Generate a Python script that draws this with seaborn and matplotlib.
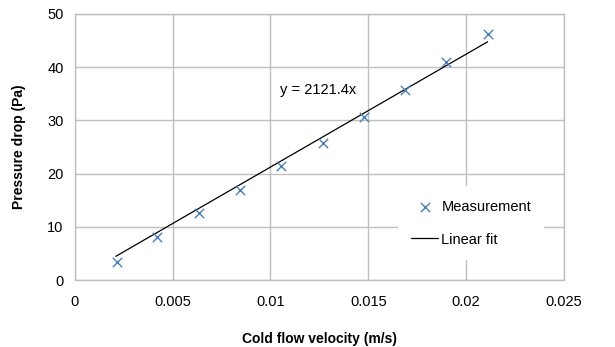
import numpy as np
import pandas as pd
import matplotlib
matplotlib.use('Agg')
import matplotlib.pyplot as plt
import seaborn as sns

sns.set_style('white')
plt.rcParams['font.family'] = ['Liberation Sans', 'DejaVu Sans']
plt.rcParams['text.color'] = 'black'
plt.rcParams['axes.labelcolor'] = 'black'
plt.rcParams['xtick.color'] = 'black'
plt.rcParams['ytick.color'] = 'black'

velocity = [0.00215, 0.00419, 0.00637, 0.00845, 0.01056, 0.01268, 0.01476, 0.01689, 0.01898, 0.02111]
pressure = [3.4, 8.0, 12.5, 16.9, 21.4, 25.7, 30.7, 35.7, 41.0, 46.3]
slope = 2121.4
fit_x = [0.0021, 0.0211]

df = pd.DataFrame({'v': velocity, 'p': pressure})
fit = pd.DataFrame({'v': fit_x, 'p': [slope * v for v in fit_x]})

fig = plt.figure(figsize=(6.15, 3.47), dpi=100)
ax = fig.add_axes([0.1215, 0.193, 0.7955, 0.767])

sns.lineplot(data=fit, x='v', y='p', ax=ax, color='black', linewidth=0.9,
             label='Linear fit', zorder=3)
sns.scatterplot(data=df, x='v', y='p', ax=ax, marker='x', s=45, color='#4a7ebb',
                linewidth=1.0, label='Measurement', zorder=4)

ax.set_xlim(0, 0.025)
ax.set_ylim(0, 50)
ax.set_xticks([0, 0.005, 0.01, 0.015, 0.02, 0.025])
ax.set_xticklabels(['0', '0.005', '0.01', '0.015', '0.02', '0.025'])
ax.set_yticks([0, 10, 20, 30, 40, 50])
ax.grid(True, color='#bfbfbf', linewidth=1.0)
ax.set_axisbelow(True)
for s in ax.spines.values():
    s.set_color('#bfbfbf')
    s.set_linewidth(1.0)
ax.tick_params(axis='x', length=0, labelsize=10.5, pad=11)
ax.tick_params(axis='y', length=0, labelsize=10.5, pad=8)

ax.set_xlabel('Cold flow velocity (m/s)', fontsize=10, fontweight='bold', labelpad=16)
ax.set_ylabel('Pressure drop (Pa)', fontsize=10, fontweight='bold', labelpad=15)

ax.text(0.0105, 35.7, 'y = 2121.4x', fontsize=10.5, ha='left', va='center')

handles, labels = ax.get_legend_handles_labels()
order = [labels.index('Measurement'), labels.index('Linear fit')]
leg = ax.legend([handles[i] for i in order], [labels[i] for i in order],
                loc='center left', bbox_to_anchor=(0.645, 0.214), frameon=True,
                fontsize=10.5, handlelength=1.9, handletextpad=0.2, labelspacing=1.3,
                borderpad=0.9, fancybox=False)
leg.get_frame().set_edgecolor('none')
leg.get_frame().set_facecolor('white')
leg.get_frame().set_alpha(1)

fig.savefig('out.png', dpi=100)
